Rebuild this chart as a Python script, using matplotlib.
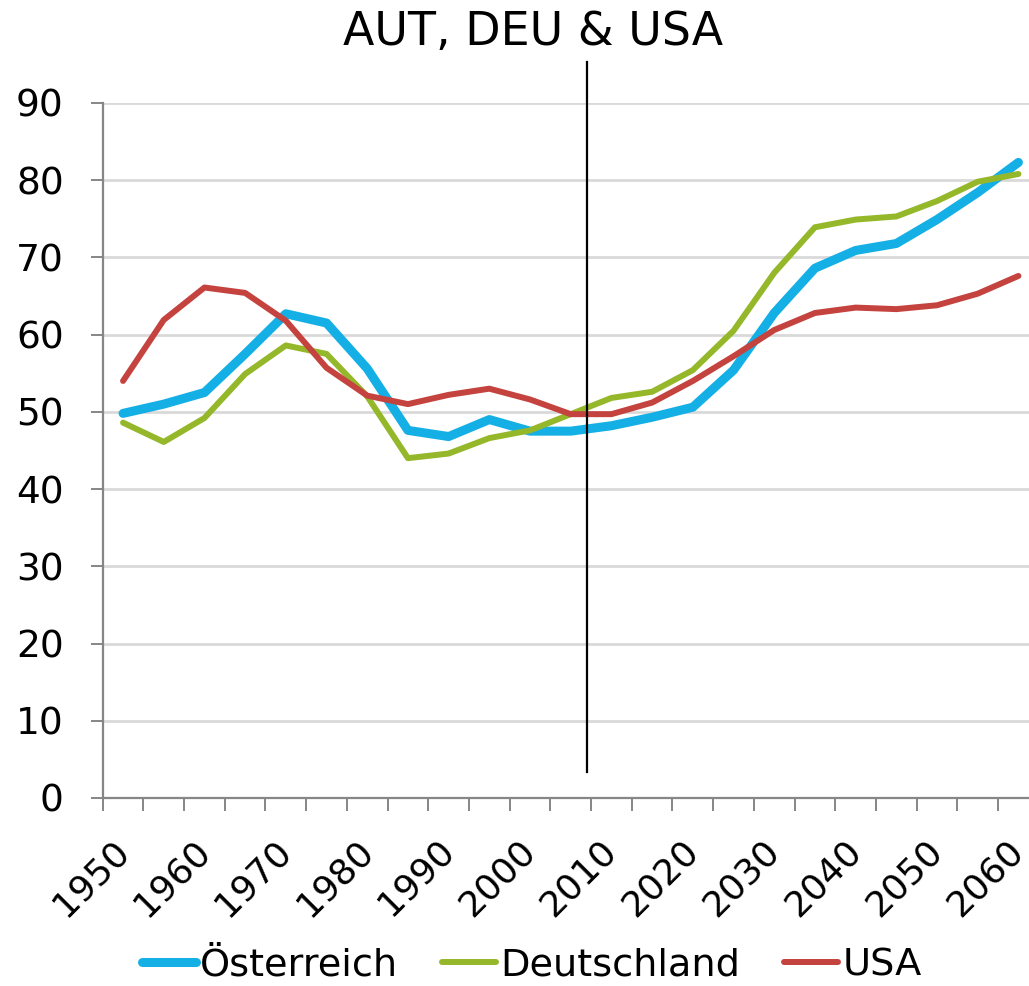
import matplotlib
matplotlib.use('Agg')
import matplotlib.pyplot as plt

# Jahre (5-Jahres-Schritte)
years = list(range(1950, 2065, 5))
tick_years = [y for y in years if y % 10 == 0]

oesterreich = [49.8, 51.0, 52.5, 57.5, 62.7, 61.5, 55.6, 47.6, 46.8, 49.0, 47.5, 47.5,
               48.2, 49.3, 50.6, 55.4, 62.8, 68.6, 70.9, 71.8, 74.9, 78.4, 82.3]
deutschland = [48.6, 46.1, 49.2, 54.9, 58.6, 57.5, 52.0, 44.0, 44.6, 46.6, 47.6, 49.7,
               51.8, 52.6, 55.4, 60.5, 68.0, 73.9, 74.9, 75.3, 77.3, 79.8, 80.8]
usa = [54.0, 61.9, 66.1, 65.4, 61.8, 55.7, 52.1, 51.0, 52.2, 53.0, 51.6, 49.7,
       49.7, 51.2, 54.0, 57.2, 60.6, 62.8, 63.5, 63.3, 63.8, 65.3, 67.6]

series = [
  {'name': 'Österreich', 'data': oesterreich, 'color': '#14AFE5', 'lw': 6.5},
  {'name': 'Deutschland', 'data': deutschland, 'color': '#95B72A', 'lw': 4.3},
  {'name': 'USA', 'data': usa, 'color': '#C4433F', 'lw': 4.3},
]

plt.rcParams['font.family'] = ['DejaVu Sans']

fig = plt.figure(figsize=(10.29, 9.86), dpi=100)
ax = fig.add_axes([0.0998, 0.1907, 0.9097, 0.7049])

x = list(range(len(years)))
for s in series:
  ax.plot(x, s['data'], color=s['color'], lw=s['lw'], label=s['name'],
          solid_capstyle='round', solid_joinstyle='round', zorder=3)

# Trennlinie zwischen Daten und Prognose
ax.plot([11.4, 11.4], [3.4, 95.3], color='black', lw=1.6, clip_on=False, zorder=4)

ax.set_xlim(-0.5, len(years) - 0.5)
ax.set_ylim(0, 90)
ax.set_yticks(range(0, 91, 10))
ax.yaxis.grid(True, color='#D9D9D9', lw=2)
ax.set_axisbelow(True)

ax.set_xticks([years.index(y) for y in tick_years])
ax.set_xticklabels([str(y) for y in tick_years], rotation=45, ha='right', va='center',
                   rotation_mode='anchor')
ax.set_xticks([i - 0.5 for i in range(len(years) + 1)], minor=True)
ax.tick_params(axis='x', which='major', length=0, pad=34, labelsize=26)
ax.tick_params(axis='x', which='minor', length=9, width=1.4, color='#868686')
ax.tick_params(axis='y', length=9, width=1.4, color='#868686', pad=19, labelsize=27)

for side in ['top', 'right']:
  ax.spines[side].set_visible(False)
for side in ['left', 'bottom']:
  ax.spines[side].set_color('#868686')
  ax.spines[side].set_linewidth(1.6)

fig.text(533 / 1029, 1 - 32 / 986, 'AUT, DEU & USA', ha='center', va='center', fontsize=33)

fig.legend(loc='center', bbox_to_anchor=(532 / 1029, 1 - 965 / 986), ncol=3, frameon=False,
           fontsize=27.5, handlelength=1.4, handletextpad=0.12, columnspacing=1.15)

fig.savefig('out.png', dpi=100)
